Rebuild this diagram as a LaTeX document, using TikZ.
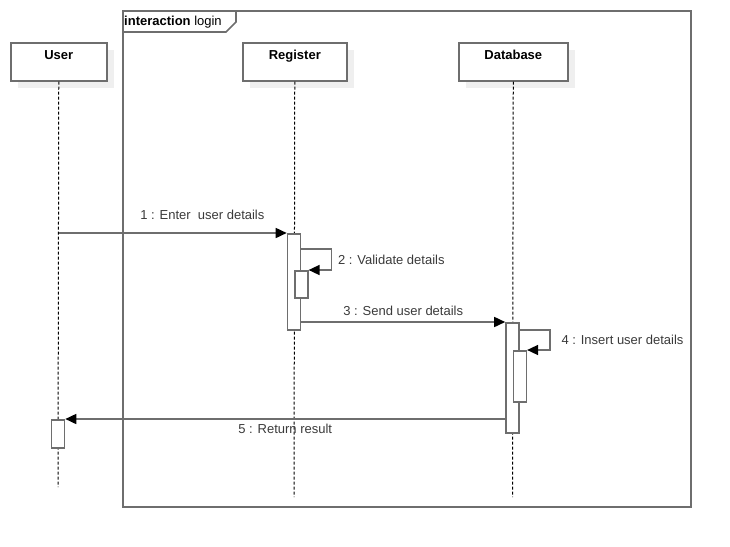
\documentclass[tikz,border=0pt]{standalone}
\usepackage{fontspec}
\setmainfont{Liberation Sans}
\usetikzlibrary{arrows.meta,positioning,calc,shadows}

\definecolor{linegray}{HTML}{6E6E6E}
\definecolor{shadowgray}{HTML}{EFEFEF}
\definecolor{textgray}{HTML}{3A3A3A}

\begin{document}
\begin{tikzpicture}[
    x=1pt, y=-1pt,
    font=\fontsize{13}{15}\selectfont,
    frame/.style={rectangle, draw=linegray, line width=1.6pt, inner sep=0pt},
    head/.style={rectangle, draw=linegray, line width=1.6pt, fill=white, minimum height=38pt, inner sep=0pt,
        text height=16.5pt, text depth=21.5pt, font=\fontsize{13}{15}\selectfont\bfseries,
        drop shadow={shadow xshift=7pt, shadow yshift=-7pt, fill=shadowgray, opacity=1}},
    life/.style={black, line width=1pt, dash pattern=on 3pt off 2pt},
    act/.style={rectangle, draw=linegray, line width=1.6pt, fill=white, minimum width=13pt, inner sep=0pt},
    msg/.style={draw=linegray, line width=1.6pt, -{Triangle[length=11pt, width=10pt, color=black]}},
    msglabel/.style={text=textgray, inner sep=1pt},
]
    \useasboundingbox (0,0) rectangle (730,546);

    % frame
    \node[frame, minimum width=568pt, minimum height=496pt, anchor=north west] (frame) at (122,10) {};
    \node[anchor=north west, inner xsep=2pt, inner ysep=5.5pt] (tag) at (frame.north west) {\textbf{interaction} login};
    \draw[linegray, line width=1.6pt] (122,32) -- (226,32) -- (236,22) -- (236,10);

    % lifelines
    \node[head, minimum width=96pt, anchor=north west] (user) at (10,42) {User};
    \node[head, minimum width=104pt, anchor=north west] (register) at (242,42) {Register};
    \node[head, minimum width=109pt, anchor=north west] (database) at (458,42) {Database};

    \coordinate (userend) at (58,487);
    \coordinate (registerend) at (294,497);
    \coordinate (databaseend) at (512.5,497);
    \draw[life] (user) -- (userend);
    \draw[life] (register) -- (registerend);
    \draw[life] (database) -- (databaseend);

    % activations
    \node[act, minimum height=96pt, anchor=north] (regact) at (294,233) {};
    \node[act, minimum height=27pt, anchor=north west] (regsub) at (294,270) {};
    \node[act, minimum height=110pt, anchor=north] (dbact) at (512.5,322) {};
    \node[act, minimum height=51pt, anchor=north west] (dbsub) at (512.5,350) {};
    \node[act, minimum height=28pt, anchor=north] (useract) at (58,419) {};

    % messages
    \draw[msg] (user.south |- regact.north) -- node[msglabel, pos=0.63, above=12pt] {1 : Enter\ \ user details} (regact.north west);
    \draw[msg] ([yshift=-16pt]regact.north east) -- ++(30,0) |- node[msglabel, pos=0.25, right=5pt] {2 : Validate details} (regsub.north east);
    \draw[msg] (regact.east |- dbact.north) -- node[msglabel, above=5pt] {3 : Send user details} (dbact.north west);
    \draw[msg] ([yshift=-8pt]dbact.north east) -- ++(30,0) |- node[msglabel, pos=0.25, right=10pt] {4 : Insert user details} (dbsub.north east);
    \draw[msg] (dbact.west |- useract.north) -- node[msglabel, below=3pt] {5 : Return result} (useract.north east);
\end{tikzpicture}
\end{document}
